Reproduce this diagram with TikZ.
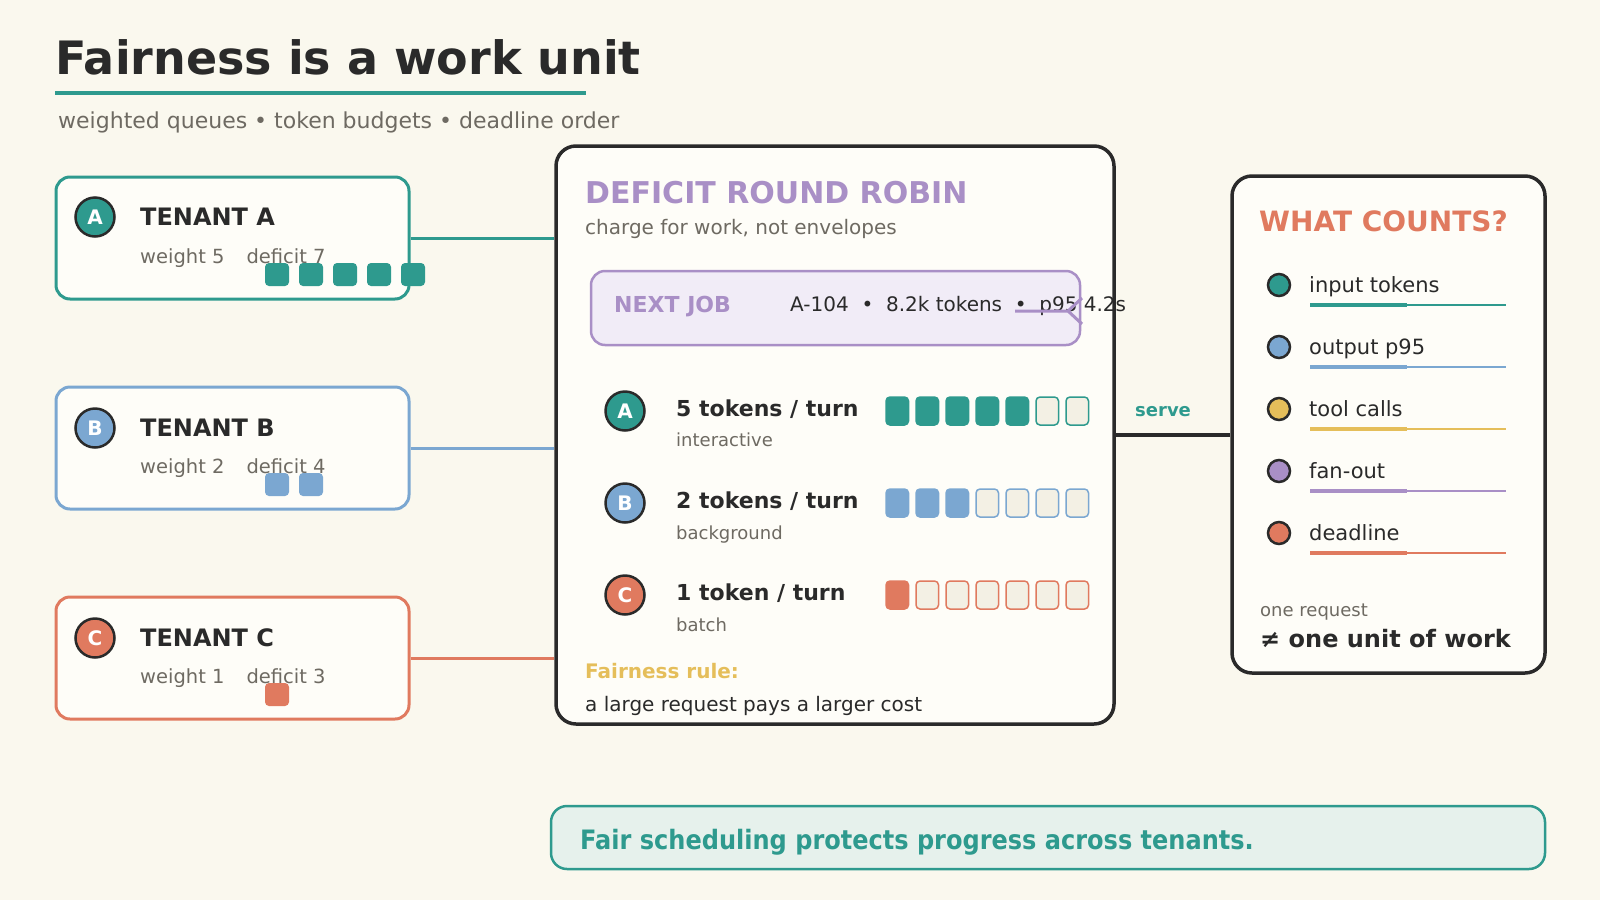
\documentclass[tikz,border=0pt]{standalone}
\usepackage{fontspec}
\setmainfont{DejaVu Sans}
\newfontfamily\condfont[FakeStretch=0.9]{DejaVu Sans}
\definecolor{paper}{HTML}{FAF8EE}
\definecolor{cardw}{HTML}{FEFDF8}
\definecolor{ink}{HTML}{2A2A2A}
\definecolor{muted}{HTML}{6E6A62}
\definecolor{tealc}{HTML}{2E9A8E}
\definecolor{skyc}{HTML}{7BA7D1}
\definecolor{coralc}{HTML}{E07A5F}
\definecolor{goldc}{HTML}{E5BE5A}
\definecolor{lilac}{HTML}{A98FC6}
\definecolor{slot}{HTML}{F3F0E4}
\definecolor{jobfill}{HTML}{F1ECF7}
\definecolor{notefill}{HTML}{E6F1EC}
\newcommand{\pxsize}[1]{\fontsize{#1}{#1}\selectfont}

\begin{document}
\begin{tikzpicture}[
  x=1pt,
  y=-1pt,
  txt/.style={inner sep=0,anchor=base west,text=ink},
  tenant/.style={draw,line width=3pt,rounded corners=14pt,fill=cardw,minimum width=353pt,minimum height=122pt,inner sep=0},
  panel/.style={draw=ink,line width=3.5pt,rounded corners=20pt,fill=cardw,inner sep=0},
  badge/.style={circle,draw=ink,line width=2.5pt,minimum size=39pt,inner sep=0,text=white,font=\bfseries\pxsize{20}},
  chip/.style={rounded corners=4pt,minimum width=24pt,minimum height=23pt,inner sep=0},
  slotbox/.style={rounded corners=4pt,minimum width=22.5pt,minimum height=28pt,inner sep=0,line width=1.5pt},
  dot/.style={circle,draw=ink,line width=2.5pt,minimum size=22pt,inner sep=0},
  link/.style={line width=3pt}
]
  \useasboundingbox (0,0) rectangle (1600,900);
  \fill[paper] (0,0) rectangle (1600,900);

  % heading
  \node[txt,font=\bfseries\pxsize{46}] (title) at (55,74) {Fairness is a work unit};
  \draw[tealc,line width=4pt] (55,93) -- (586,93);
  \node[txt,text=muted,font=\pxsize{22}] (sub) at (58,128) {weighted queues • token budgets • deadline order};

  % panels
  \node[panel,minimum width=558pt,minimum height=578pt] (drr) at (835,435) {};
  \node[panel,minimum width=313pt,minimum height=497pt] (wc) at (1388.5,424.5) {};

  % tenants
  \node[tenant,draw=tealc] (tA) at (232.5,238) {};
  \node[badge,fill=tealc] (bA) at (95,217) {A};
  \node[txt,font=\bfseries\pxsize{24}] (nA) at (140,225) {TENANT A};
  \node[txt,text=muted,font=\pxsize{19.5}] (wA) at (140,263) {weight 5\hspace{22pt}deficit 7};
  \foreach \i in {0,...,4}
    \node[chip,fill=tealc] (cA\i) at ({277+34*\i},274.5) {};

  \node[tenant,draw=skyc] (tB) at (232.5,448) {};
  \node[badge,fill=skyc] (bB) at (95,428) {B};
  \node[txt,font=\bfseries\pxsize{24}] (nB) at (140,436) {TENANT B};
  \node[txt,text=muted,font=\pxsize{19.5}] (wB) at (140,473) {weight 2\hspace{22pt}deficit 4};
  \foreach \i in {0,1}
    \node[chip,fill=skyc] (cB\i) at ({277+34*\i},484.5) {};

  \node[tenant,draw=coralc] (tC) at (232.5,658) {};
  \node[badge,fill=coralc] (bC) at (95,638) {C};
  \node[txt,font=\bfseries\pxsize{24}] (nC) at (140,646) {TENANT C};
  \node[txt,text=muted,font=\pxsize{19.5}] (wC) at (140,683) {weight 1\hspace{22pt}deficit 3};
  \node[chip,fill=coralc] (cC0) at (277,694.5) {};

  \draw[link,tealc] (tA.east) -- (tA.east -| drr.west);
  \draw[link,skyc] (tB.east) -- (tB.east -| drr.west);
  \draw[link,coralc] (tC.east) -- (tC.east -| drr.west);

  % deficit round robin
  \node[txt,text=lilac,font=\bfseries\pxsize{30}] (drrT) at (585,203) {DEFICIT ROUND ROBIN};
  \node[txt,text=muted,font=\pxsize{20}] (drrS) at (585,234) {charge for work, not envelopes};

  \node[draw=lilac,line width=2.5pt,fill=jobfill,rounded corners=14pt,minimum width=489pt,minimum height=74pt,inner sep=0] (job) at (835.5,308) {};
  \node[txt,text=lilac,font=\bfseries\pxsize{22}] (jobL) at (614,312) {NEXT JOB};
  \node[txt,font=\pxsize{20}] (jobT) at (790,311) {A-104\ \ •\ \ 8.2k tokens\ \ •\ \ p95 4.2s};
  \coordinate (jobA) at (1015,311);
  \coordinate (jobB) at (1068,311);
  \draw[lilac,line width=3pt] (jobA) -- (jobB) -- ++(14,-13) (jobB) -- ++(14,13);

  \node[badge,fill=tealc] (rA) at (625,411) {A};
  \node[txt,font=\bfseries\pxsize{22}] (rAt) at (676,416) {5 tokens / turn};
  \node[txt,text=muted,font=\pxsize{18}] (rAs) at (676,446) {interactive};
  \foreach \i in {1,...,5}
    \node[slotbox,draw=tealc,fill=tealc] (sA\i) at ({867.25+30*\i},411) {};
  \foreach \i in {6,7}
    \node[slotbox,draw=tealc,fill=slot] (sA\i) at ({867.25+30*\i},411) {};

  \node[badge,fill=skyc] (rB) at (625,503) {B};
  \node[txt,font=\bfseries\pxsize{22}] (rBt) at (676,508) {2 tokens / turn};
  \node[txt,text=muted,font=\pxsize{18}] (rBs) at (676,539) {background};
  \foreach \i in {1,...,3}
    \node[slotbox,draw=skyc,fill=skyc] (sB\i) at ({867.25+30*\i},503) {};
  \foreach \i in {4,...,7}
    \node[slotbox,draw=skyc,fill=slot] (sB\i) at ({867.25+30*\i},503) {};

  \node[badge,fill=coralc] (rC) at (625,595) {C};
  \node[txt,font=\bfseries\pxsize{22}] (rCt) at (676,600) {1 token / turn};
  \node[txt,text=muted,font=\pxsize{18}] (rCs) at (676,631) {batch};
  \node[slotbox,draw=coralc,fill=coralc] (sC1) at (897.25,595) {};
  \foreach \i in {2,...,7}
    \node[slotbox,draw=coralc,fill=slot] (sC\i) at ({867.25+30*\i},595) {};

  \node[txt,text=goldc,font=\bfseries\pxsize{20}] (rule) at (585,678) {Fairness rule:};
  \node[txt,font=\pxsize{20}] (ruleT) at (585,711) {a large request pays a larger cost};

  % serve
  \draw[ink,line width=4pt] (drr.east) -- (drr.east -| wc.west);
  \node[txt,text=tealc,font=\bfseries\pxsize{18}] (srv) at (1135,416) {serve};

  % what counts
  \node[txt,text=coralc,font=\bfseries\pxsize{28}] (wcT) at (1259,231) {WHAT COUNTS?};
  \foreach \c/\t [count=\k from 0] in {tealc/input tokens,skyc/output p95,goldc/tool calls,lilac/fan-out,coralc/deadline} {
    \node[dot,fill=\c] (d\k) at (1279,{285+62*\k}) {};
    \node[txt,font=\pxsize{21}] (i\k) at (1309,{292+62*\k}) {\t};
    \draw[\c,line width=2.5pt] (1310,{305+62*\k}) -- (1506,{305+62*\k});
    \draw[\c,line width=3.5pt] (1310,{305+62*\k}) -- (1407,{305+62*\k});
  }
  \node[txt,text=muted,font=\pxsize{18}] (req) at (1260,616) {one request};
  \node[txt,font=\bfseries\pxsize{24}] (unit) at (1260,647) {≠ one unit of work};

  % takeaway
  \node[draw=tealc,line width=2.5pt,fill=notefill,rounded corners=16pt,minimum width=994pt,minimum height=63pt,inner sep=0] (note) at (1048,837.5) {};
  \node[txt,text=tealc,font=\condfont\bfseries\pxsize{26.7}] (noteT) at (580,849) {Fair scheduling protects progress across tenants.};
\end{tikzpicture}
\end{document}
